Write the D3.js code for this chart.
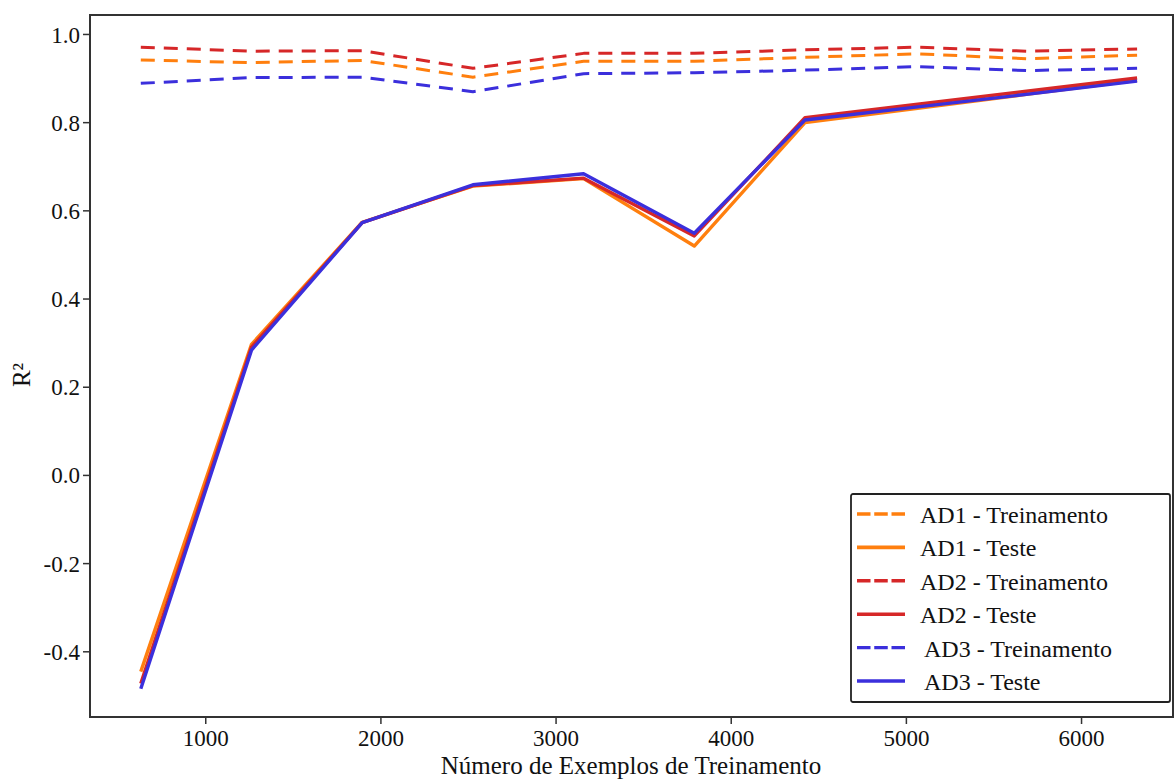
<!DOCTYPE html>
<html>
<head>
<meta charset="utf-8">
<script src="https://cdn.jsdelivr.net/npm/d3@7"></script>
<style>
  html, body { margin: 0; padding: 0; background: #fff; }
  svg text { font-family: "Liberation Serif", "Times New Roman", serif; fill: #111; }
</style>
</head>
<body>
<svg id="chart" width="1176" height="781"></svg>
<script>
// training set sizes (x axis)
const trainSizes = [632, 1264, 1896, 2528, 3160, 3792, 4424, 5056, 5688, 6320];

// R² values
const ad1Train = [0.941, 0.935, 0.940, 0.902, 0.938, 0.938, 0.947, 0.955, 0.944, 0.952];
const ad1Test  = [-0.446, 0.296, 0.573, 0.655, 0.672, 0.519, 0.799, 0.831, 0.863, 0.895];
const ad2Train = [0.970, 0.961, 0.962, 0.922, 0.956, 0.956, 0.964, 0.970, 0.961, 0.966];
const ad2Test  = [-0.473, 0.290, 0.572, 0.656, 0.673, 0.542, 0.810, 0.840, 0.870, 0.900];
const ad3Train = [0.888, 0.901, 0.902, 0.869, 0.910, 0.912, 0.918, 0.926, 0.917, 0.922];
const ad3Test  = [-0.485, 0.283, 0.572, 0.658, 0.683, 0.548, 0.805, 0.834, 0.863, 0.893];

const xTicks = [1000, 2000, 3000, 4000, 5000, 6000];
const yTicks = [-0.4, -0.2, 0.0, 0.2, 0.4, 0.6, 0.8, 1.0];

const series = [
  { name: "AD1 - Treinamento", values: ad1Train, color: "#ff7f0e", dashed: true },
  { name: "AD1 - Teste",       values: ad1Test,  color: "#ff7f0e", dashed: false },
  { name: "AD2 - Treinamento", values: ad2Train, color: "#d62728", dashed: true },
  { name: "AD2 - Teste",       values: ad2Test,  color: "#d62728", dashed: false },
  { name: "AD3 - Treinamento", values: ad3Train, color: "#3b2fdc", dashed: true },
  { name: "AD3 - Teste",       values: ad3Test,  color: "#3b2fdc", dashed: false }
];

const svg = d3.select("#chart");
const margin = { top: 15, right: 3, bottom: 64, left: 90 };
const width = 1176 - margin.left - margin.right;
const height = 781 - margin.top - margin.bottom;

const x = d3.scaleLinear().domain([342, 6525]).range([0, width]);
const y = d3.scaleLinear().domain([-0.549, 1.043]).range([height, 0]);

const g = svg.append("g").attr("transform", `translate(${margin.left},${margin.top})`);

// lines
const line = d3.line()
  .x((d, i) => x(trainSizes[i]))
  .y(d => y(d));

series.forEach(s => {
  g.append("path")
    .datum(s.values)
    .attr("fill", "none")
    .attr("stroke", s.color)
    .attr("stroke-width", s.dashed ? 3 : 3.4)
    .attr("stroke-dasharray", s.dashed ? "14,9" : null)
    .attr("stroke-linejoin", "round")
    .attr("d", line);
});

// axes (plain hyphen for negatives, like the original)
const yFmt = d => d3.format(".1f")(d).replace("\u2212", "-");

const xAxis = g.append("g")
  .attr("transform", `translate(0,${height})`)
  .call(d3.axisBottom(x).tickValues(xTicks).tickFormat(d3.format("d")).tickSizeOuter(0).tickSize(7).tickPadding(6));
const yAxis = g.append("g")
  .call(d3.axisLeft(y).tickValues(yTicks).tickFormat(yFmt).tickSizeOuter(0).tickSize(7).tickPadding(3));

[xAxis, yAxis].forEach(a => {
  a.select(".domain").remove();
  a.selectAll(".tick line").attr("stroke", "#333").attr("stroke-width", 1.5);
  a.selectAll(".tick text")
    .style("font-family", "'Liberation Serif', 'Times New Roman', serif")
    .style("font-size", "23px")
    .attr("fill", "#111");
});
yAxis.selectAll(".tick text").attr("dy", "0.35em");

// frame
g.append("rect")
  .attr("x", 0).attr("y", 0)
  .attr("width", width).attr("height", height)
  .attr("fill", "none")
  .attr("stroke", "#333")
  .attr("stroke-width", 2);

// axis titles
svg.append("text")
  .attr("x", 631).attr("y", 774)
  .attr("text-anchor", "middle")
  .style("font-size", "25px")
  .text("Número de Exemplos de Treinamento");

svg.append("text")
  .attr("transform", "translate(30,375) rotate(-90)")
  .attr("text-anchor", "middle")
  .style("font-size", "25px")
  .text("R²");

// legend
const legend = svg.append("g").attr("transform", "translate(851,494)");
legend.append("rect")
  .attr("width", 319).attr("height", 208)
  .attr("rx", 2)
  .attr("fill", "#fff")
  .attr("stroke", "#222")
  .attr("stroke-width", 1.8);

series.forEach((s, i) => {
  const row = legend.append("g").attr("transform", `translate(0,${20 + i * 33.4})`);
  row.append("line")
    .attr("x1", 6).attr("x2", 54)
    .attr("y1", 0).attr("y2", 0)
    .attr("stroke", s.color)
    .attr("stroke-width", s.dashed ? 3.4 : 3.6)
    .attr("stroke-dasharray", s.dashed ? "13.5,3.75" : null);
  row.append("text")
    .attr("x", i >= 4 ? 73 : 69)
    .attr("y", 9)
    .style("font-size", "24px")
    .text(s.name);
});
</script>
</body>
</html>
